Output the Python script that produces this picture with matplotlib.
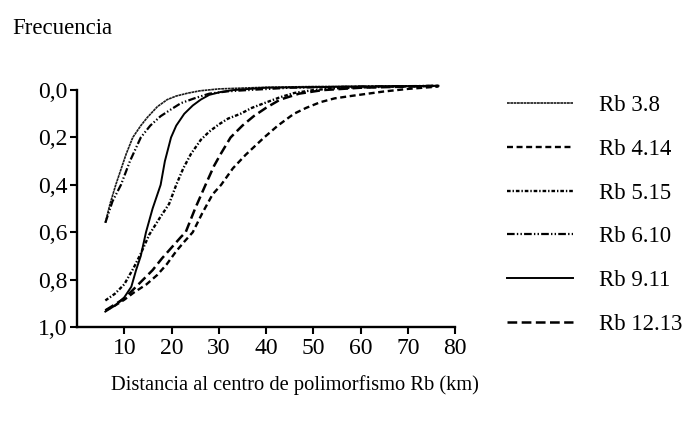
import numpy as np
import matplotlib
matplotlib.use('Agg')
import matplotlib.pyplot as plt

plt.rcParams['font.family'] = ['Liberation Serif', 'DejaVu Serif']
plt.rcParams['lines.scale_dashes'] = False

# cumulative frequency vs distance, one curve per Rb fusion
x_rb38 = [6, 7, 8.2, 10.4, 11.8, 13.5, 14.9, 17, 19.1, 21, 23.4, 26, 30, 40, 50, 60, 76.5]
y_rb38 = [0.56, 0.48, 0.40, 0.27, 0.20, 0.15, 0.115, 0.07, 0.04, 0.025, 0.013, 0.003, -0.005, -0.012, -0.015, -0.016, -0.018]

x_rb414 = [6, 8, 10, 12, 14.7, 17, 19, 21, 22.7, 24.5, 26.5, 28.7, 30.5, 33, 35.7, 39.6, 42.5, 45.9, 48.5, 51.5, 54.5, 57.9, 64.9, 70, 76.5]
y_rb414 = [0.93, 0.91, 0.885, 0.855, 0.82, 0.78, 0.735, 0.68, 0.64, 0.60, 0.52, 0.44, 0.40, 0.33, 0.273, 0.20, 0.15, 0.10, 0.075, 0.051, 0.035, 0.025, 0.006, -0.005, -0.015]

x_rb515 = [6, 8, 10, 12, 13.5, 15.3, 17.5, 19.5, 21, 22.5, 24.1, 26.2, 28, 30, 32, 34.6, 37, 40.3, 43, 46, 50, 55, 65, 76.5]
y_rb515 = [0.888, 0.86, 0.82, 0.75, 0.69, 0.61, 0.54, 0.48, 0.40, 0.33, 0.27, 0.21, 0.175, 0.145, 0.12, 0.10, 0.075, 0.05, 0.03, 0.012, 0.0, -0.008, -0.014, -0.018]

x_rb610 = [6, 7.5, 9.3, 11.2, 13.5, 15.5, 17.7, 20, 22, 24.8, 28, 32, 36, 45, 60, 76.5]
y_rb610 = [0.56, 0.47, 0.40, 0.30, 0.20, 0.15, 0.11, 0.08, 0.055, 0.035, 0.015, 0.005, 0.0, -0.01, -0.015, -0.018]

x_rb911 = [6, 8, 10, 11.5, 12.5, 13.5, 14.6, 16, 17.7, 18.6, 19.9, 21, 22.7, 24.5, 26.2, 28, 30.4, 33, 40, 60, 76.5]
y_rb911 = [0.935, 0.91, 0.875, 0.83, 0.76, 0.70, 0.60, 0.50, 0.40, 0.30, 0.20, 0.15, 0.10, 0.065, 0.04, 0.02, 0.008, 0.0, -0.01, -0.015, -0.018]

x_rb1213 = [6, 8, 10, 12, 14, 16, 18, 20, 22, 23, 25, 27.2, 29, 30.4, 32.5, 35, 37.4, 40, 43, 47, 52, 60, 76.5]
y_rb1213 = [0.93, 0.905, 0.88, 0.84, 0.80, 0.76, 0.71, 0.665, 0.62, 0.60, 0.50, 0.40, 0.32, 0.27, 0.20, 0.15, 0.11, 0.075, 0.04, 0.015, 0.0, -0.01, -0.018]

labels = ['Rb 3.8', 'Rb 4.14', 'Rb 5.15', 'Rb 6.10', 'Rb 9.11', 'Rb 12.13']
xticks = [10, 20, 30, 40, 50, 60, 70, 80]
yticks = [0.0, 0.2, 0.4, 0.6, 0.8, 1.0]
ytick_labels = ['0,0', '0,2', '0,4', '0,6', '0,8', '1,0']

series = [(x_rb38, y_rb38), (x_rb414, y_rb414), (x_rb515, y_rb515),
          (x_rb610, y_rb610), (x_rb911, y_rb911), (x_rb1213, y_rb1213)]
styles = [dict(ls=(0, (2.0, 0.4)), lw=1.2, color='#1a1a1a'),
          dict(ls=(0, (4.3, 2.6)), lw=1.7),
          dict(ls=(0, (2.6, 1.4, 1.0, 1.4)), lw=1.7),
          dict(ls=(0, (5.5, 1.6, 1.0, 1.6, 1.0, 1.6)), lw=1.6),
          dict(ls='-', lw=1.4),
          dict(ls=(0, (7.0, 3.2)), lw=1.8)]

fig = plt.figure(figsize=(6.88, 4.23), dpi=100)
ax = fig.add_axes([77/688, 1 - 327/423, (455 - 77)/688, (327 - 83)/423])

for (xs, ys), lab, st in zip(series, labels, styles):
    st = dict(st)
    st.setdefault('color', 'black')
    ax.plot(xs, ys, label=lab, **st)

ax.set_xlim(0, 80)
ax.set_ylim(1.0, -0.03)
ax.spines['top'].set_visible(False)
ax.spines['right'].set_visible(False)
ax.spines['left'].set_bounds(0, 1)
for s in ['left', 'bottom']:
    ax.spines[s].set_linewidth(1.7)

ax.set_xticks(xticks)
ax.set_xticklabels([str(t) for t in xticks])
ax.set_yticks(yticks)
ax.set_yticklabels(ytick_labels)
ax.tick_params(axis='both', direction='out', length=5, width=1.5, labelsize=17)
ax.tick_params(axis='x', pad=3)
ax.tick_params(axis='y', pad=2)

fig.text(12/688, 1 - 28/423, 'Frecuencia', fontsize=16.5, ha='left', va='center')
fig.text(295/688, 1 - 385/423, 'Distancia al centro de polimorfismo Rb (km)',
         fontsize=14.8, ha='center', va='center')

fig.legend(loc='center left', bbox_to_anchor=(507/688, 1 - 215/423),
           frameon=False, fontsize=16.5, handlelength=2.9, handletextpad=1.1,
           labelspacing=1.0, borderpad=0, borderaxespad=0)

fig.savefig('out.png', dpi=100)
